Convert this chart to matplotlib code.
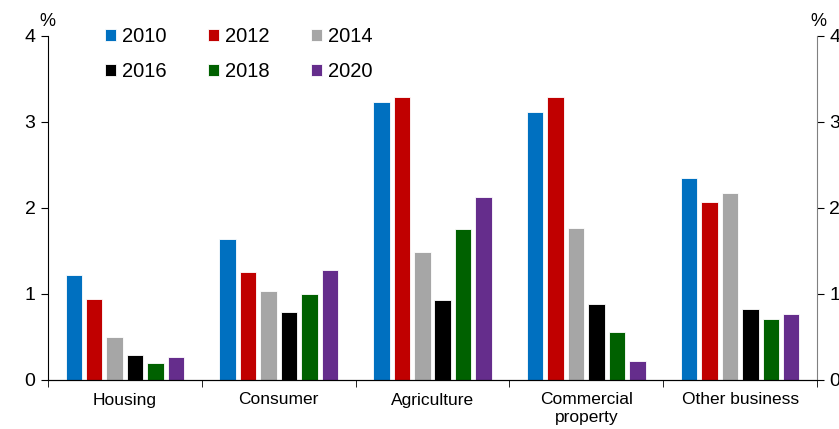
import numpy as np
import matplotlib.pyplot as plt

plt.rcParams['font.family'] = ['Liberation Sans', 'DejaVu Sans']

categories = ['Housing', 'Consumer', 'Agriculture', 'Commercial\nproperty', 'Other business']
years = ['2010', '2012', '2014', '2016', '2018', '2020']
colors = ['#0070c0', '#c00000', '#a6a6a6', '#000000', '#006100', '#652d8c']

v2010 = [1.22, 1.64, 3.23, 3.12, 2.35]
v2012 = [0.94, 1.26, 3.29, 3.29, 2.07]
v2014 = [0.50, 1.03, 1.49, 1.77, 2.18]
v2016 = [0.29, 0.79, 0.93, 0.88, 0.83]
v2018 = [0.20, 1.00, 1.76, 0.56, 0.71]
v2020 = [0.27, 1.28, 2.13, 0.22, 0.77]
series = [v2010, v2012, v2014, v2016, v2018, v2020]

fig = plt.figure(figsize=(8.39, 4.29), dpi=100)
ax = fig.add_axes([48 / 839, 1 - 380 / 429, 769 / 839, 344 / 429])

x = np.arange(len(categories))
step = 0.133
width = 0.107
for i, (vals, yr, c) in enumerate(zip(series, years, colors)):
    ax.bar(x + (i - 2.5) * step, vals, width, color=c, edgecolor='white',
           linewidth=0.6, label=yr)

ax.set_xlim(-0.5, len(categories) - 0.5)
ax.set_ylim(0, 4)
ax.set_yticks([0, 1, 2, 3, 4])
ax.tick_params(axis='y', labelsize=14, length=5, direction='out', pad=4)
ax.set_xticks(x)
ax.set_xticklabels(categories, fontsize=12.5)
ax.tick_params(axis='x', length=0, pad=9)
ax.set_xticks(np.arange(len(categories) + 1) - 0.5, minor=True)
ax.tick_params(axis='x', which='minor', length=5, direction='out')
ax.spines['top'].set_visible(False)
ax.spines['right'].set_visible(False)

ax2 = ax.twinx()
ax2.set_ylim(0, 4)
ax2.set_yticks([0, 1, 2, 3, 4])
ax2.tick_params(axis='y', labelsize=14, length=5, direction='out', pad=4)
ax2.spines['top'].set_visible(False)
ax2.spines['left'].set_visible(False)
ax2.spines['right'].set_color('#808080')

fig.text(47 / 839, 1 - 21 / 429, '%', fontsize=13, ha='center', va='center')
fig.text(818 / 839, 1 - 21 / 429, '%', fontsize=13, ha='center', va='center')

# legend reads row by row: 2010 2012 2014 / 2016 2018 2020
handles, labels = ax.get_legend_handles_labels()
order = [0, 3, 1, 4, 2, 5]
ax.legend([handles[i] for i in order], [labels[i] for i in order],
          ncol=3, loc='upper left', bbox_to_anchor=(0.050, 1.078), frameon=False,
          fontsize=14.5, handlelength=0.55, handleheight=0.55, handletextpad=0.3,
          columnspacing=2.05, labelspacing=0.8)

fig.savefig('out.png', dpi=100, facecolor='white')
